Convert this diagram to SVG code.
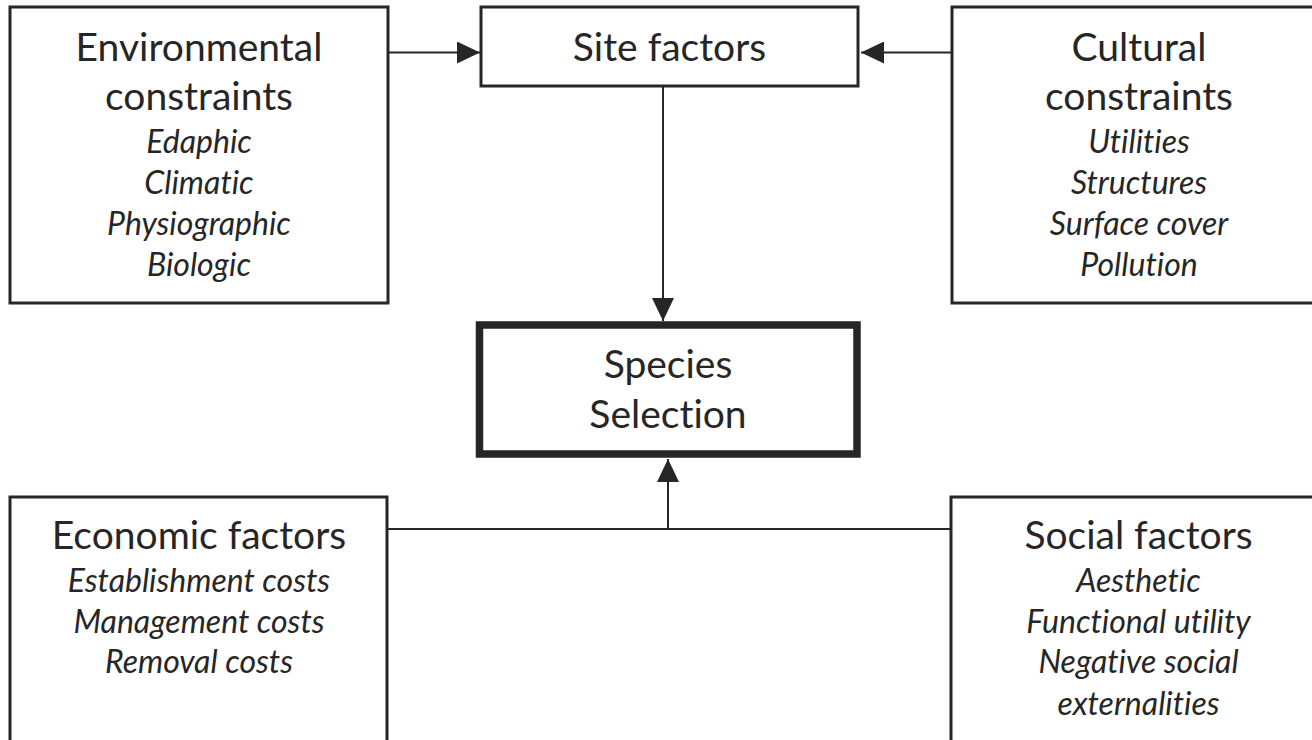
<svg xmlns="http://www.w3.org/2000/svg" width="1312" height="740" viewBox="0 0 1312 740">
<style>
.box{fill:#fff;stroke:#262626;stroke-width:3}
.main{fill:#fff;stroke:#262626;stroke-width:7.5}
.conn{fill:none;stroke:#262626;stroke-width:2}
text{font-family:Lato,"Open Sans","Liberation Sans",sans-serif;fill:#262626;text-anchor:middle;font-variant-ligatures:none;font-feature-settings:"liga" 0,"dlig" 0,"calt" 0,"clig" 0}
.t{font-size:39px}
.i{font-size:32px;font-style:italic}
</style>
<defs>
<marker id="ah" markerUnits="userSpaceOnUse" markerWidth="23" markerHeight="22" refX="23" refY="11" orient="auto">
<path d="M0,0 L23,11 L0,22 Z" fill="#262626"/>
</marker>
</defs>
<rect width="1312" height="740" fill="#fff"/>
<g id="connectors">
<line class="conn" x1="389" y1="52.5" x2="480" y2="52.5" marker-end="url(#ah)"/>
<line class="conn" x1="952" y1="52.5" x2="861" y2="52.5" marker-end="url(#ah)"/>
<line class="conn" x1="663" y1="86" x2="663" y2="321" marker-end="url(#ah)"/>
<line class="conn" x1="387" y1="529" x2="951" y2="529"/>
<line class="conn" x1="668" y1="529" x2="668" y2="459" marker-end="url(#ah)"/>
</g>
<g id="env">
<rect class="box" x="10" y="7" width="378" height="296"/>
<text class="t" x="199" y="61">Environmental</text>
<text class="t" x="199" y="110">constraints</text>
<text class="i" x="199" y="153">Edaphic</text>
<text class="i" x="199" y="194">Climatic</text>
<text class="i" x="199" y="235">Physiographic</text>
<text class="i" x="199" y="276">Biologic</text>
</g>
<g id="site">
<rect class="box" x="481" y="7" width="377" height="79"/>
<text class="t" x="669.5" y="61">Site factors</text>
</g>
<g id="cultural">
<rect class="box" x="952" y="7" width="374" height="296"/>
<text class="t" x="1139" y="61">Cultural</text>
<text class="t" x="1139" y="110">constraints</text>
<text class="i" x="1139" y="153">Utilities</text>
<text class="i" x="1139" y="194">Structures</text>
<text class="i" x="1139" y="235">Surface cover</text>
<text class="i" x="1139" y="276">Pollution</text>
</g>
<g id="species">
<rect class="main" x="479.5" y="325" width="377.5" height="129"/>
<text class="t" x="668" y="378">Species</text>
<text class="t" x="668" y="428">Selection</text>
</g>
<g id="economic">
<rect class="box" x="10" y="497" width="377" height="260"/>
<text class="t" x="199" y="549">Economic factors</text>
<text class="i" x="199" y="592">Establishment costs</text>
<text class="i" x="199" y="633">Management costs</text>
<text class="i" x="199" y="673">Removal costs</text>
</g>
<g id="social">
<rect class="box" x="951" y="497" width="375" height="260"/>
<text class="t" x="1138.5" y="549">Social factors</text>
<text class="i" x="1138.5" y="592">Aesthetic</text>
<text class="i" x="1138.5" y="633">Functional utility</text>
<text class="i" x="1138.5" y="673">Negative social</text>
<text class="i" x="1138.5" y="715">externalities</text>
</g>
</svg>
